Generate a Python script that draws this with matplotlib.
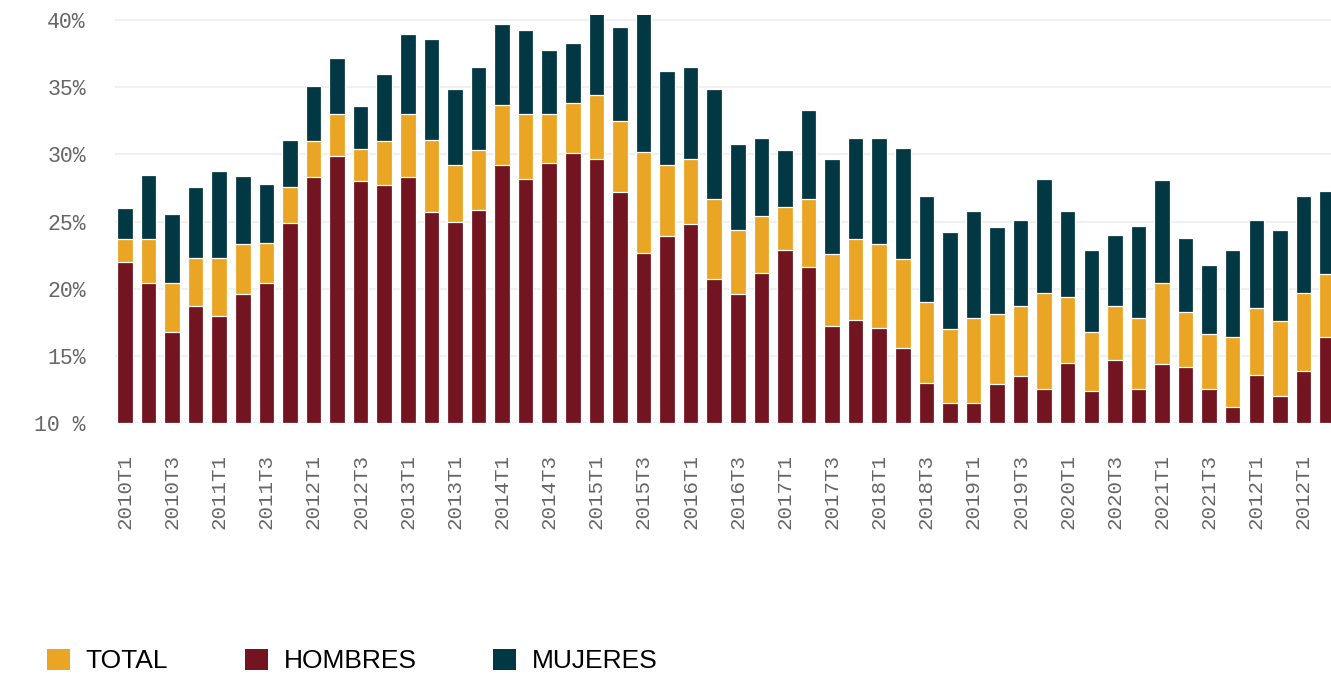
import matplotlib
matplotlib.use("Agg")
import matplotlib.pyplot as plt
from matplotlib.patches import Patch

# ---- data (percent) ----
mujeres = [26.0, 28.5, 25.6, 27.6, 28.8, 28.4, 27.8, 31.1, 35.1, 37.2,
           33.6, 36.0, 39.0, 38.6, 34.9, 36.5, 39.7, 39.3, 37.8, 38.3,
           41.0, 39.5, 41.0, 36.2, 36.5, 34.9, 30.8, 31.2, 30.3, 33.3,
           29.7, 31.2, 31.2, 30.5, 26.9, 24.2, 25.8, 24.6, 25.1, 28.2,
           25.8, 22.9, 24.0, 24.7, 28.1, 23.8, 21.8, 22.9, 25.1, 24.4,
           26.9, 27.3]
total = [23.7, 23.7, 20.4, 22.3, 22.3, 23.3, 23.4, 27.6, 31.0, 33.0,
         30.4, 31.0, 33.0, 31.1, 29.2, 30.3, 33.7, 33.0, 33.0, 33.8,
         34.4, 32.5, 30.2, 29.2, 29.7, 26.7, 24.4, 25.4, 26.1, 26.7,
         22.6, 23.7, 23.3, 22.2, 19.0, 17.0, 17.8, 18.1, 18.7, 19.7,
         19.4, 16.8, 18.7, 17.8, 20.4, 18.3, 16.6, 16.4, 18.6, 17.6,
         19.7, 21.1]
hombres = [22.0, 20.4, 16.8, 18.7, 18.0, 19.6, 20.4, 24.9, 28.3, 29.9,
           28.0, 27.7, 28.3, 25.7, 25.0, 25.9, 29.2, 28.2, 29.4, 30.1,
           29.7, 27.2, 22.7, 23.9, 24.8, 20.7, 19.6, 21.2, 22.9, 21.6,
           17.2, 17.7, 17.1, 15.6, 13.0, 11.5, 11.5, 12.9, 13.5, 12.5,
           14.5, 12.4, 14.7, 12.5, 14.4, 14.2, 12.5, 11.2, 13.6, 12.0,
           13.9, 16.4]
tick_labels = ["2010T1", "2010T3", "2011T1", "2011T3", "2012T1", "2012T3",
               "2013T1", "2013T1", "2014T1", "2014T3", "2015T1", "2015T3",
               "2016T1", "2016T3", "2017T1", "2017T3", "2018T1", "2018T3",
               "2019T1", "2019T3", "2020T1", "2020T3", "2021T1", "2021T3",
               "2012T1", "2012T1"]
y_ticks = [10, 15, 20, 25, 30, 35, 40]
y_tick_labels = ["10 %", "15%", "20%", "25%", "30%", "35%", "40%"]
series_names = ["TOTAL", "HOMBRES", "MUJERES"]

C_TOTAL = "#E9A523"
C_HOM = "#721520"
C_MUJ = "#023843"
BASE = 10

fig = plt.figure(figsize=(13.31, 6.75), dpi=100)
ax = fig.add_axes([0.0864, 0.3733, 1 - 0.0864, 0.978 - 0.3733])

x = list(range(len(mujeres)))
w = 0.66
kw = dict(width=w, bottom=BASE, edgecolor="white", linewidth=0.9, zorder=3)
ax.bar(x, [v - BASE for v in mujeres], color=C_MUJ, **kw)
ax.bar(x, [v - BASE for v in total], color=C_TOTAL, **kw)
ax.bar(x, [v - BASE for v in hombres], color=C_HOM, **kw)

ax.set_ylim(10, 40.4)
ax.set_xlim(-0.42, 51.17)

ax.set_yticks(y_ticks)
ax.set_yticklabels(y_tick_labels, fontfamily="Liberation Mono", fontsize=15.5, color="#666666")
ax.set_xticks(x[::2])
ax.set_xticklabels(tick_labels, rotation=90, fontfamily="Liberation Mono", fontsize=15, color="#666666")
ax.tick_params(axis="y", length=0, pad=21)
ax.tick_params(axis="x", length=0, pad=22)
ax.grid(axis="y", color="#f0f0f0", linewidth=1.5, zorder=0)
ax.grid(axis="x", visible=False)
for s in ax.spines.values():
    s.set_visible(False)

handles = [Patch(facecolor=C_TOTAL), Patch(facecolor=C_HOM), Patch(facecolor=C_MUJ)]
fig.legend(handles, series_names, loc="center left", bbox_to_anchor=(0.0353, 0.0207),
           ncol=3, frameon=False, prop={"family": "Liberation Sans", "size": 19},
           handlelength=0.87, handleheight=0.87, handletextpad=0.6,
           columnspacing=2.9, borderpad=0, borderaxespad=0)

fig.savefig("out.png", dpi=100)
